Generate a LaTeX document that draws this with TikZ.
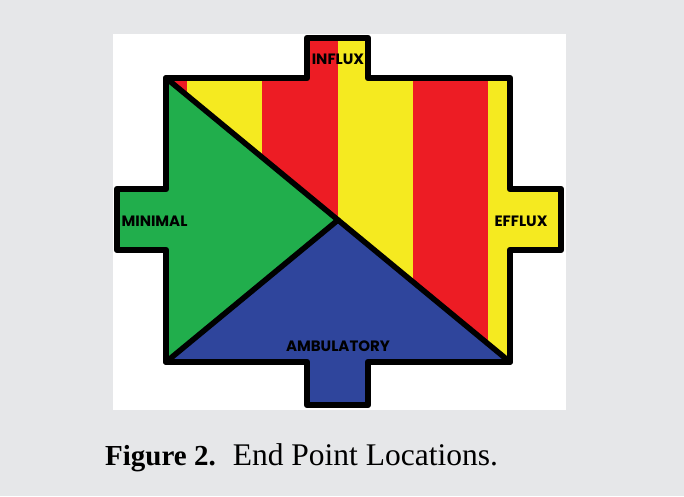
\documentclass[tikz,border=0pt]{standalone}
\usepackage{fontspec}
\setmainfont{Liberation Serif}
\newfontfamily\labelfont{Poppins}
\definecolor{bggrey}{HTML}{E6E7E9}
\definecolor{fyellow}{HTML}{F5EA20}
\definecolor{fred}{HTML}{ED1C24}
\definecolor{fgreen}{HTML}{21AE4C}
\definecolor{fblue}{HTML}{2F459C}
\tikzset{
  outline/.style={draw=black, line width=6.5pt, line join=round},
  divider/.style={draw=black, line width=5.5pt, line cap=round},
  lbl/.style={font=\labelfont\bfseries\fontsize{15}{16}\selectfont, text=black, inner sep=0pt},
  caption/.style={inner sep=0pt, anchor=base west}
}
\begin{document}
\begin{tikzpicture}[x=1pt,y=-1pt]
  \fill[bggrey] (0,0) rectangle (684,496);
  \useasboundingbox (0,0) rectangle (684,496);
  \fill[white] (113,34) rectangle (566,410);
  \def\shapepath{(166,78) -- (307,78) -- (307,38) -- (368,38) -- (368,78) -- (510,78) -- (510,189) -- (561,189) -- (561,250) -- (510,250) -- (510,362) -- (368,362) -- (368,405) -- (307,405) -- (307,362) -- (166,362) -- (166,250) -- (117,250) -- (117,189) -- (166,189) -- cycle}
  \begin{scope}
    \clip \shapepath;
    \fill[fyellow] (100,30) rectangle (580,420);
    \fill[fred] (150,30) rectangle (187,420);
    \fill[fred] (262,30) rectangle (338,420);
    \fill[fred] (413,30) rectangle (488,420);
    \fill[fgreen] (100,78) -- (166,78) -- (338,220) -- (166,362) -- (100,362) -- cycle;
    \fill[fblue] (166,362) -- (338,220) -- (510,362) -- (510,420) -- (166,420) -- cycle;
  \end{scope}
  \coordinate (tl) at (166,78);
  \coordinate (br) at (510,362);
  \coordinate (bl) at (166,362);
  \coordinate (ctr) at (338,220);
  \draw[divider] (tl) -- (br);
  \draw[divider] (bl) -- (ctr);
  \draw[outline] \shapepath;
  \node[lbl] (influx) at (338,59) {INFLUX};
  \node[lbl] (minimal) at (154.5,221) {MINIMAL};
  \node[lbl] (efflux) at (521,221) {EFFLUX};
  \node[lbl] (ambulatory) at (338,346) {AMBULATORY};
  \node[caption] (cap) at (105,465) {{\fontsize{29}{32}\selectfont\bfseries Figure 2.}\hspace{17pt}{\fontsize{31.5}{32}\selectfont End Point Locations.}};
\end{tikzpicture}
\end{document}
